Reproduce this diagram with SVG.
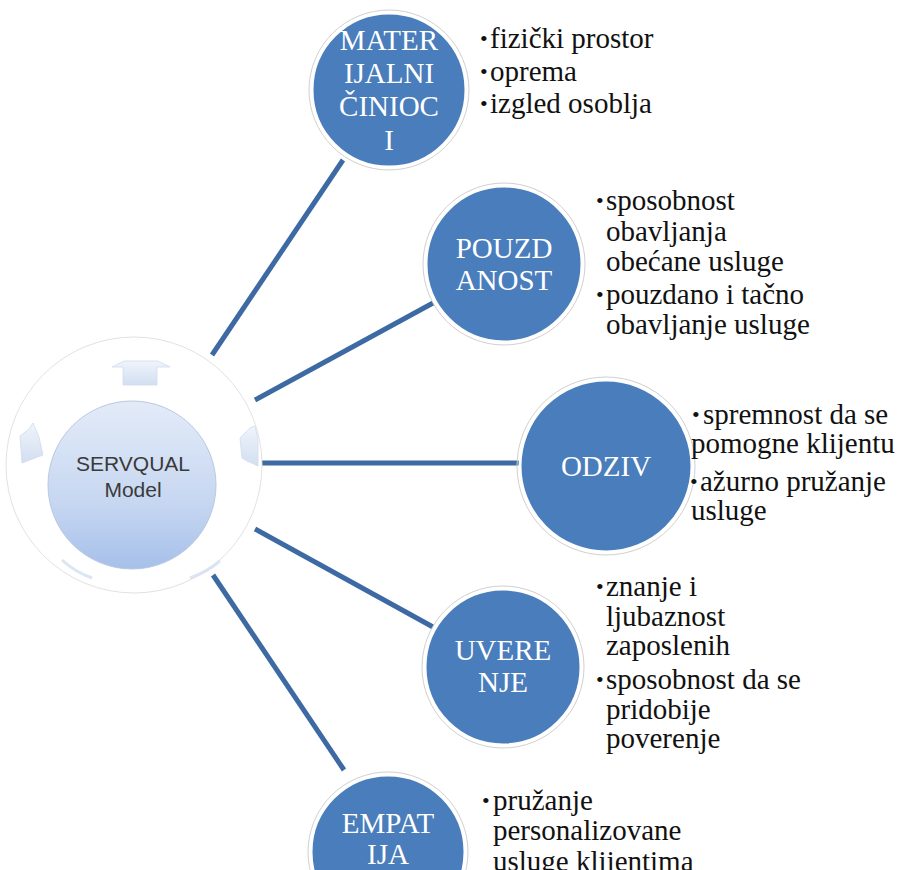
<svg xmlns="http://www.w3.org/2000/svg" width="913" height="870" viewBox="0 0 913 870">
<defs>
<style>
.conn{stroke:#3d6aa3;stroke-width:5;fill:none;stroke-linecap:butt}
.node{fill:#4a7dbb;stroke:#ffffff;stroke-width:3}
.halo{fill:none;stroke:#d0d0d0;stroke-width:1}
.ser{font-family:Liberation Serif,Tinos,Times New Roman,Noto Serif,DejaVu Serif,FreeSerif,serif}
.lbl{font-size:29px;fill:#ffffff;text-anchor:middle}
.bt{font-size:29px;fill:#111111}
.bul{font-size:22px;fill:#111111}
.ctr{font-family:Liberation Sans,Arial,sans-serif;font-size:21px;fill:#3a3a3a;text-anchor:middle}
.arr{fill:url(#arrg);stroke:#c9d6ec;stroke-width:0.8;opacity:0.85}
</style>
<linearGradient id="cg" x1="0" y1="0" x2="0" y2="1">
<stop offset="0" stop-color="#e3ebf8"/>
<stop offset="0.6" stop-color="#c7d7f1"/>
<stop offset="1" stop-color="#a6c0ea"/>
</linearGradient>
<linearGradient id="arrg" x1="0" y1="0" x2="0" y2="1">
<stop offset="0" stop-color="#eef3fb"/>
<stop offset="1" stop-color="#cbd9ef"/>
</linearGradient>
</defs>
<rect width="913" height="870" fill="#ffffff"/>

<g id="connectors">
<line class="conn" x1="212" y1="355" x2="343" y2="160"/>
<line class="conn" x1="255" y1="400" x2="433" y2="303"/>
<line class="conn" x1="262" y1="463" x2="522" y2="463"/>
<line class="conn" x1="255" y1="529" x2="433" y2="627"/>
<line class="conn" x1="213" y1="575" x2="344" y2="770"/>
</g>

<g id="center">
<circle cx="134" cy="465" r="128" fill="#ffffff" stroke="#e2e2e2" stroke-width="1"/>
<polygon class="arr" points="112,367 124,361 158,361 170,367 157,367 157,385 123,385 123,367"/>
<polygon class="arr" points="240,438 250,428 255,426 258,440 258,466 247,461 242,458"/>
<polygon class="arr" points="20,436 29,429 33,423 39,437 43,455 22,463"/>
<path d="M62,560 Q75,572 92,578" fill="none" stroke="#d3def0" stroke-width="3" opacity="0.8"/>
<path d="M190,578 Q207,572 220,561" fill="none" stroke="#d3def0" stroke-width="3" opacity="0.8"/>
<circle cx="132" cy="485" r="84" fill="url(#cg)" stroke="#b9c9e2" stroke-width="1"/>
<text class="ctr" x="133" y="471">SERVQUAL</text>
<text class="ctr" x="133" y="497">Model</text>
</g>

<g id="n1" class="ser">
<circle class="halo" cx="389" cy="90" r="80"/>
<circle class="node" cx="389" cy="90" r="77"/>
<text class="lbl ser" x="389" y="50">MATER</text>
<text class="lbl ser" x="389" y="83">IJALNI</text>
<text class="lbl ser" x="389" y="116">ČINIOC</text>
<text class="lbl ser" x="389" y="150">I</text>
<text class="bul ser" x="480" y="46">•</text>
<text class="bt ser" x="490" y="48">fizički prostor</text>
<text class="bul ser" x="480" y="79">•</text>
<text class="bt ser" x="490" y="81">oprema</text>
<text class="bul ser" x="480" y="111">•</text>
<text class="bt ser" x="490" y="113">izgled osoblja</text>
</g>

<g id="n2" class="ser">
<circle class="halo" cx="504" cy="264" r="81"/>
<circle class="node" cx="504" cy="264" r="78"/>
<text class="lbl ser" x="504" y="258">POUZD</text>
<text class="lbl ser" x="504" y="290">ANOST</text>
<text class="bul ser" x="596" y="208">•</text>
<text class="bt ser" x="606" y="210">sposobnost</text>
<text class="bt ser" x="606" y="241">obavljanja</text>
<text class="bt ser" x="606" y="271">obećane usluge</text>
<text class="bul ser" x="596" y="302">•</text>
<text class="bt ser" x="606" y="304">pouzdano i tačno</text>
<text class="bt ser" x="606" y="334">obavljanje usluge</text>
</g>

<g id="n3" class="ser">
<circle class="halo" cx="606" cy="466" r="89"/>
<circle class="node" cx="606" cy="466" r="86"/>
<text class="lbl ser" x="606" y="476">ODZIV</text>
<text class="bul ser" x="692" y="422">•</text>
<text class="bt ser" x="703" y="424">spremnost da se</text>
<text class="bt ser" x="691" y="453">pomogne klijentu</text>
<text class="bul ser" x="690" y="489">•</text>
<text class="bt ser" x="700" y="491">ažurno pružanje</text>
<text class="bt ser" x="691" y="520">usluge</text>
</g>

<g id="n4" class="ser">
<circle class="halo" cx="503" cy="667" r="81"/>
<circle class="node" cx="503" cy="667" r="78"/>
<text class="lbl ser" x="503" y="660">UVERE</text>
<text class="lbl ser" x="503" y="692">NJE</text>
<text class="bul ser" x="596" y="594">•</text>
<text class="bt ser" x="606" y="596">znanje i</text>
<text class="bt ser" x="606" y="626">ljubaznost</text>
<text class="bt ser" x="606" y="655">zaposlenih</text>
<text class="bul ser" x="596" y="687">•</text>
<text class="bt ser" x="606" y="689">sposobnost da se</text>
<text class="bt ser" x="606" y="719">pridobije</text>
<text class="bt ser" x="606" y="748">poverenje</text>
</g>

<g id="n5" class="ser">
<circle class="halo" cx="388" cy="852" r="80"/>
<circle class="node" cx="388" cy="852" r="77"/>
<text class="lbl ser" x="388" y="833">EMPAT</text>
<text class="lbl ser" x="388" y="864">IJA</text>
<text class="bul ser" x="482" y="808">•</text>
<text class="bt ser" x="493" y="810">pružanje</text>
<text class="bt ser" x="493" y="840">personalizovane</text>
<text class="bt ser" x="493" y="871">usluge klijentima</text>
</g>
</svg>
